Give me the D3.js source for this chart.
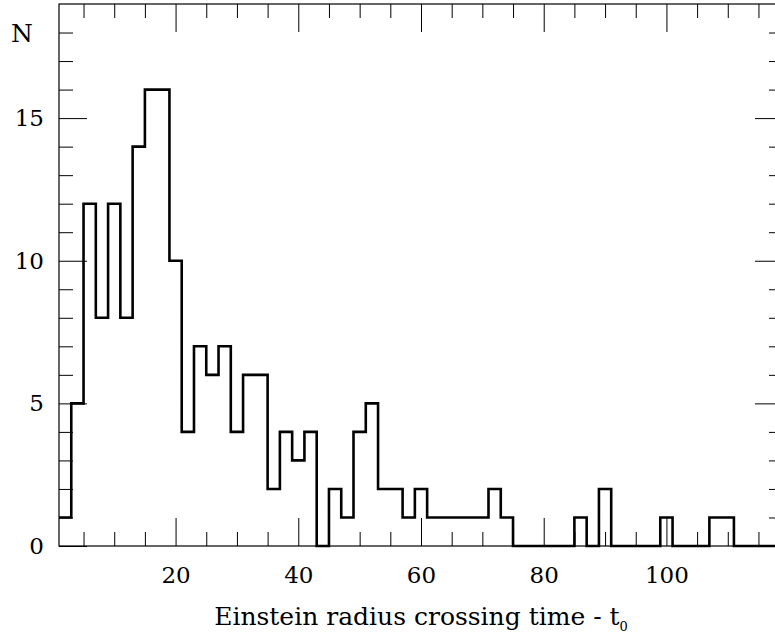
<!DOCTYPE html>
<html>
<head>
<meta charset="utf-8">
<script src="https://cdn.jsdelivr.net/npm/d3@7"></script>
<style>
  body { margin: 0; background: #fff; }
  svg { display: block; }
  text { font-family: "DejaVu Serif", serif; fill: #000; }
</style>
</head>
<body>
<div id="chart"></div>
<script>
// histogram of t0, bins 2 wide starting at 1
var binStart = 1;
var binWidth = 2;
var counts = [
  1, 5, 12, 8, 12, 8, 14, 16, 16, 10,
  4, 7, 6, 7, 4, 6, 6, 2, 4, 3,
  4, 0, 2, 1, 4, 5, 2, 2, 1, 2,
  1, 1, 1, 1, 1, 2, 1, 0, 0, 0,
  0, 0, 1, 0, 2, 0, 0, 0, 0, 1,
  0, 0, 0, 1, 1, 0, 0, 0, 0
];
var xMajor = [20, 40, 60, 80, 100];
var xMinor = [5, 10, 15, 25, 30, 35, 45, 50, 55, 65, 70, 75, 85, 90, 95, 105, 110, 115];
var yMajor = [0, 5, 10, 15];
var yMinor = [1, 2, 3, 4, 6, 7, 8, 9, 11, 12, 13, 14, 16, 17, 18];
var xTitle = "Einstein radius crossing time - t";
var yTitle = "N";

function generateChart(id) {
  var width = 775, height = 636;
  var left = 59, right = 783, top = 4, bottom = 546;

  var svg = d3.select("#" + id)
    .append("svg")
    .attr("width", width)
    .attr("height", height);

  var x = d3.scaleLinear()
    .domain([1, 119])
    .range([left, right]);
  var y = d3.scaleLinear()
    .domain([0, 19])
    .range([bottom, top]);

  // build step points from bin edges
  var pts = counts.map(function(c, i) { return { x: binStart + i * binWidth, v: c }; });
  pts.push({ x: binStart + counts.length * binWidth, v: counts[counts.length - 1] });

  // ticks on all four sides, pointing in
  function addAxis(axis, tx, ty, vals, size, labels, pad) {
    var g = svg.append("g")
      .attr("transform", "translate(" + tx + "," + ty + ")")
      .call(axis.tickValues(vals).tickSize(-size).tickSizeOuter(0).tickPadding(pad || 0)
        .tickFormat(labels ? d3.format("d") : ""));
    g.select(".domain").remove();
    g.selectAll("line").attr("stroke", "#000").attr("stroke-width", 1);
    g.selectAll("text").style("font-size", "23px").style("fill", "#000");
    return g;
  }

  addAxis(d3.axisBottom(x), 0, bottom, xMajor, 28, true, 21);
  addAxis(d3.axisBottom(x), 0, bottom, xMinor, 14, false);
  addAxis(d3.axisTop(x), 0, top, xMajor, 28, false);
  addAxis(d3.axisTop(x), 0, top, xMinor, 14, false);
  addAxis(d3.axisLeft(y), left, 0, yMajor, 28, true, 15);
  addAxis(d3.axisLeft(y), left, 0, yMinor, 14, false);
  addAxis(d3.axisRight(y), right, 0, yMajor, 28, false);
  addAxis(d3.axisRight(y), right, 0, yMinor, 14, false);

  // frame
  svg.append("rect")
    .attr("x", left)
    .attr("y", top)
    .attr("width", right - left)
    .attr("height", bottom - top)
    .attr("fill", "none")
    .attr("stroke", "#000")
    .attr("stroke-width", 1.2);

  // histogram
  svg.append("path")
    .datum(pts)
    .attr("fill", "none")
    .attr("stroke", "#000")
    .attr("stroke-width", 2.6)
    .attr("stroke-linejoin", "miter")
    .attr("d", d3.line()
      .curve(d3.curveStepAfter)
      .x(function(d) { return x(d.x); })
      .y(function(d) { return y(d.v); }));

  // axis titles
  var t = svg.append("text")
    .attr("x", (left + right) / 2)
    .attr("y", 625)
    .attr("text-anchor", "middle")
    .style("font-size", "25px")
    .text(xTitle);
  t.append("tspan")
    .attr("dy", 6)
    .style("font-size", "13px")
    .text("0");

  svg.append("text")
    .attr("x", 22)
    .attr("y", 42)
    .attr("text-anchor", "middle")
    .style("font-size", "25px")
    .text(yTitle);
}

generateChart("chart");
</script>
</body>
</html>
